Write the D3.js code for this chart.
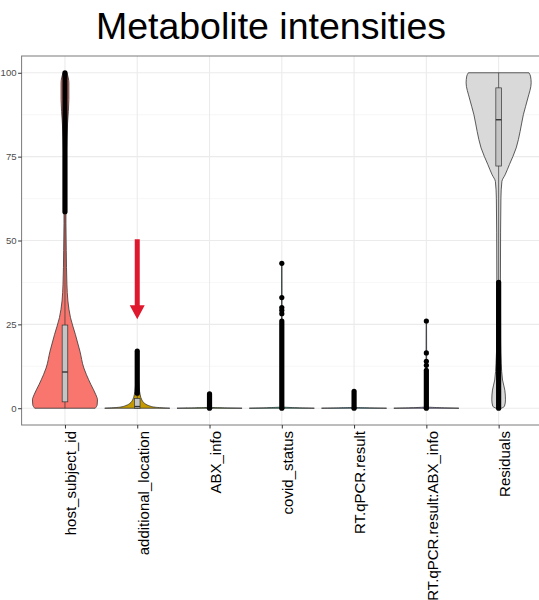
<!DOCTYPE html>
<html>
<head>
<meta charset="utf-8">
<script src="https://cdn.jsdelivr.net/npm/d3@7"></script>
<style>
    body { margin: 0; background: #fff; }
    svg { display: block; font-family: "Liberation Sans", Arial, sans-serif; }
</style>
</head>
<body>
<svg width="539" height="600"></svg>
<script>
// ---- data ----
var categories = ["host_subject_id", "additional_location", "ABX_info", "covid_status",
    "RT.qPCR.result", "RT.qPCR.result:ABX_info", "Residuals"];
var fills = ["#F8766D", "#C49A00", "#53B400", "#00C094", "#00B6EB", "#A58AFF", "#D9D9D9"];

// violin outlines: [value, half width relative to the widest point]
var hostViolin = [[0, 0.93], [1, 0.99], [2.5, 1], [4, 0.95], [7, 0.8], [10, 0.66], [12, 0.58],
    [17, 0.46], [22, 0.32], [27, 0.17], [32, 0.09], [37, 0.06], [47, 0.04], [55, 0.03],
    [65, 0.03], [75, 0.04], [85, 0.08], [92, 0.12], [97, 0.12], [100, 0.06]];
var locationViolin = [[0, 1], [0.3, 0.55], [0.8, 0.35], [1.5, 0.22], [2.5, 0.14], [4, 0.09],
    [6, 0.06], [10, 0.03], [17, 0.01]];
var abxViolin = [[0, 1], [0.3, 0.01], [4.3, 0.005]];
var covidViolin = [[0, 1], [0.4, 0.012], [43.2, 0.006]];
var rtViolin = [[0, 1], [0.3, 0.01], [5.1, 0.005]];
var rtAbxViolin = [[0, 1], [0.4, 0.012], [26, 0.006]];
var residualViolin = [[0, 0.08], [0.6, 0.18], [2.5, 0.21], [5.4, 0.19], [8.4, 0.12], [13.4, 0.08],
    [20, 0.06], [37.6, 0.055], [52.5, 0.06], [62.6, 0.07], [67.6, 0.1], [69.6, 0.2],
    [72.6, 0.33], [77.6, 0.54], [82.5, 0.66], [87.5, 0.76], [92.5, 0.9], [97, 1], [99, 0.98], [100, 0.93]];
var violins = [hostViolin, locationViolin, abxViolin, covidViolin, rtViolin, rtAbxViolin, residualViolin];

// boxplot stats: lower whisker, q1, median, q3, upper whisker
var boxLow = [0, 0, 0, 0, 0, 0, 37.4];
var boxQ1 = [1.9, 0, 0, 0, 0, 0, 72.2];
var boxMedian = [10.8, 0.5, 0, 0, 0, 0, 86];
var boxQ3 = [24.8, 2.9, 0, 0, 0, 0, 95.5];
var boxHigh = [58.4, 4, 0, 0, 0, 0, 100];

// outliers: dense runs of overlapping points [from, to] and single points
var outlierRuns = [[[58.6, 100]], [[4.5, 17]], [[0, 4.3]], [[0, 26]], [[0, 5]], [[0, 11.3]], [[0, 37.5]]];
var outlierPoints = [[], [], [], [28.2, 29.2, 30, 33, 43.2], [], [12.8, 14, 16.5, 26], []];

var yTicks = [0, 25, 50, 75, 100];
var yMinor = [12.5, 37.5, 62.5, 87.5];
var title = "Metabolite intensities";
var arrowNote = {category: "additional_location", from: 50.4, to: 26.5};

// ---- chart ----
(function () {
    var svg = d3.select("svg"),
        panel = {left: 21.6, right: 542, top: 56, bottom: 425};

    var scaleX = d3.scalePoint().domain(categories).range([panel.left, panel.right]).padding(0.6),
        scaleY = d3.scaleLinear().domain([-5, 105]).range([panel.bottom, panel.top]);

    var halfWidth = scaleX.step() * 0.45,
        boxHalf = 2.8,
        pointR = 2.6;

    svg.append("text")
        .attr("x", 271)
        .attr("y", 39)
        .attr("text-anchor", "middle")
        .style("font-size", "37.5px")
        .style("fill", "#000")
        .text(title);

    var g = svg.append("g");

    // grid
    g.selectAll(".minor").data(yMinor).enter().append("line")
        .attr("x1", panel.left).attr("x2", panel.right)
        .attr("y1", function (d) { return scaleY(d); })
        .attr("y2", function (d) { return scaleY(d); })
        .style("stroke", "#f2f2f2").style("stroke-width", 0.6);
    g.selectAll(".major").data(yTicks).enter().append("line")
        .attr("x1", panel.left).attr("x2", panel.right)
        .attr("y1", function (d) { return scaleY(d); })
        .attr("y2", function (d) { return scaleY(d); })
        .style("stroke", "#ebebeb").style("stroke-width", 1.1);
    g.selectAll(".vgrid").data(categories).enter().append("line")
        .attr("x1", function (d) { return scaleX(d); })
        .attr("x2", function (d) { return scaleX(d); })
        .attr("y1", panel.top).attr("y2", panel.bottom)
        .style("stroke", "#ebebeb").style("stroke-width", 1.1);

    // violins
    categories.forEach(function (cat, i) {
        var cx = scaleX(cat);
        var area = d3.area()
            .curve(d3.curveMonotoneY)
            .y(function (d) { return scaleY(d[0]); })
            .x0(function (d) { return cx - d[1] * halfWidth; })
            .x1(function (d) { return cx + d[1] * halfWidth; });
        g.append("path")
            .attr("d", area(violins[i]))
            .style("fill", fills[i])
            .style("stroke", "#333")
            .style("stroke-width", 0.8)
            .style("stroke-linejoin", "round");
    });

    // boxplots
    categories.forEach(function (cat, i) {
        var cx = scaleX(cat);
        var bg = g.append("g");
        bg.append("line")
            .attr("x1", cx).attr("x2", cx)
            .attr("y1", scaleY(boxLow[i])).attr("y2", scaleY(boxHigh[i]))
            .style("stroke", "#333").style("stroke-width", 0.7);
        if (boxQ3[i] > boxQ1[i]) {
            bg.append("rect")
                .attr("x", cx - boxHalf)
                .attr("width", boxHalf * 2)
                .attr("y", scaleY(boxQ3[i]))
                .attr("height", scaleY(boxQ1[i]) - scaleY(boxQ3[i]))
                .style("fill", "#c4c4c4")
                .style("stroke", "#333").style("stroke-width", 0.7);
        }
        bg.append("line")
            .attr("x1", cx - boxHalf).attr("x2", cx + boxHalf)
            .attr("y1", scaleY(boxMedian[i])).attr("y2", scaleY(boxMedian[i]))
            .style("stroke", "#333").style("stroke-width", 1.4);

        outlierRuns[i].forEach(function (r) {
            bg.append("line")
                .attr("x1", cx).attr("x2", cx)
                .attr("y1", scaleY(r[0])).attr("y2", scaleY(r[1]))
                .style("stroke", "#000")
                .style("stroke-width", pointR * 2)
                .style("stroke-linecap", "round");
        });
        bg.selectAll("circle").data(outlierPoints[i]).enter().append("circle")
            .attr("cx", cx)
            .attr("cy", function (d) { return scaleY(d); })
            .attr("r", pointR)
            .style("fill", "#000");
    });

    // red arrow annotation
    var ax = scaleX(arrowNote.category),
        yTop = scaleY(arrowNote.from),
        yTip = scaleY(arrowNote.to),
        headLen = 14, headW = 7.5, shaftW = 2.5;
    g.append("path")
        .attr("d", "M" + (ax - shaftW) + "," + yTop +
            "L" + (ax + shaftW) + "," + yTop +
            "L" + (ax + shaftW) + "," + (yTip - headLen) +
            "L" + (ax + headW) + "," + (yTip - headLen) +
            "L" + ax + "," + yTip +
            "L" + (ax - headW) + "," + (yTip - headLen) +
            "L" + (ax - shaftW) + "," + (yTip - headLen) + "Z")
        .style("fill", "#E0182D");

    // panel border
    g.append("rect")
        .attr("x", panel.left).attr("y", panel.top)
        .attr("width", panel.right - panel.left)
        .attr("height", panel.bottom - panel.top)
        .style("fill", "none")
        .style("stroke", "#7a7a7a")
        .style("stroke-width", 1);

    // axes
    var axisY = svg.append("g")
        .attr("transform", "translate(" + panel.left + ",0)")
        .call(d3.axisLeft(scaleY).tickValues(yTicks).tickSize(3.5).tickPadding(1.5));
    axisY.select(".domain").remove();
    axisY.selectAll(".tick line").style("stroke", "#333");
    axisY.selectAll(".tick text")
        .style("font-size", "9.6px")
        .style("fill", "#4d4d4d")
        .style("font-family", "Liberation Sans, Arial, sans-serif");

    var axisX = svg.append("g")
        .attr("transform", "translate(0," + panel.bottom + ")")
        .call(d3.axisBottom(scaleX).tickSize(3.5));
    axisX.select(".domain").remove();
    axisX.selectAll(".tick line").style("stroke", "#333");
    axisX.selectAll(".tick text")
        .attr("transform", "rotate(-90)")
        .attr("x", -6)
        .attr("y", 0)
        .attr("dy", "0.72em")
        .attr("text-anchor", "end")
        .style("font-size", "15px")
        .style("fill", "#000")
        .style("font-family", "Liberation Sans, Arial, sans-serif");
})();
</script>
</body>
</html>
